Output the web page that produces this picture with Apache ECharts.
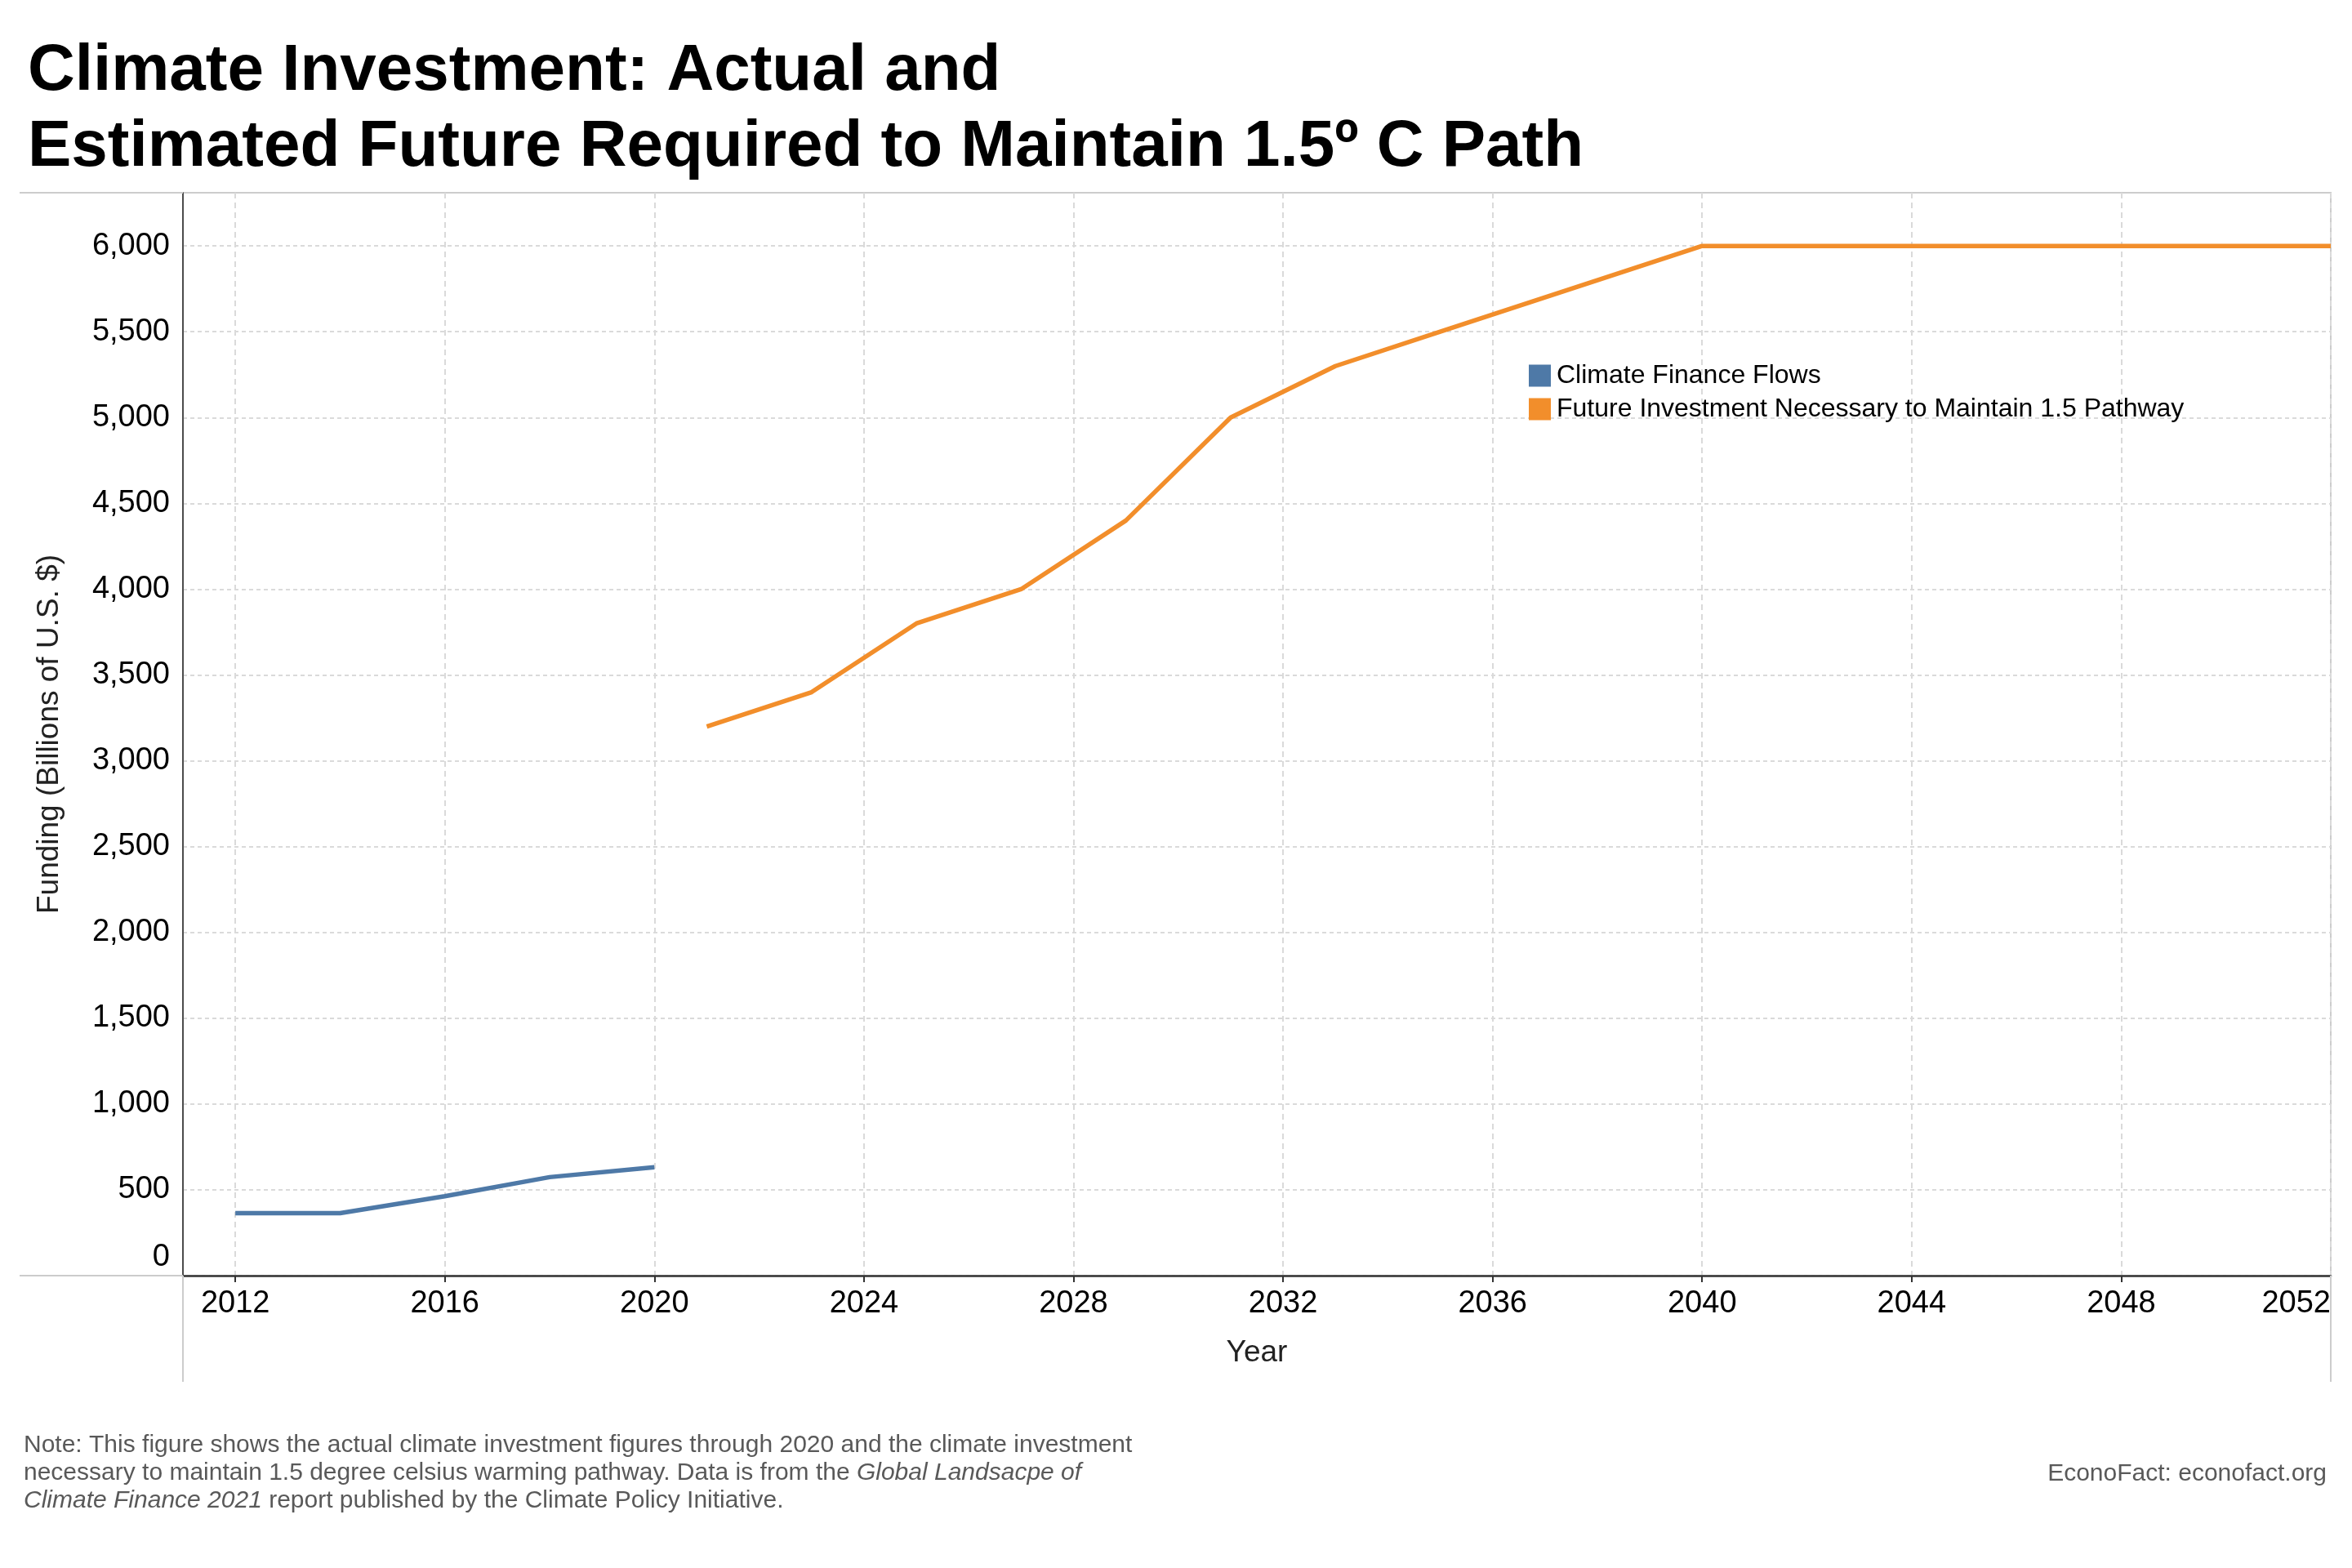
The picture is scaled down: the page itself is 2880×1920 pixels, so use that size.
<!DOCTYPE html>
<html>
<head>
<meta charset="utf-8">
<script src="https://cdn.jsdelivr.net/npm/echarts@6/dist/echarts.min.js"></script>
<style>
html,body{margin:0;padding:0;background:#fff;}
#chart{width:2880px;height:1920px;}
</style>
</head>
<body>
<div id="chart"></div>
<script>
// ---- data ----
const actualYears = [2012, 2014, 2016, 2018, 2020];
const actualValues = [364, 364, 463, 574, 632];
const futureYears = [2021, 2023, 2025, 2027, 2029, 2031, 2033, 2035, 2037, 2039, 2040, 2042, 2044, 2046, 2048, 2050, 2052];
const futureValues = [3200, 3400, 3800, 4000, 4400, 5000, 5300, 5500, 5700, 5900, 6000, 6000, 6000, 6000, 6000, 6000, 6000];
const xTickYears = [2012, 2016, 2020, 2024, 2028, 2032, 2036, 2040, 2044, 2048, 2052];
const yTickValues = [0, 500, 1000, 1500, 2000, 2500, 3000, 3500, 4000, 4500, 5000, 5500, 6000];
const seriesNames = ['Climate Finance Flows', 'Future Investment Necessary to Maintain 1.5 Pathway'];
const seriesColors = ['#4e79a7', '#f28e2b'];

const FONT = '"Liberation Sans", Arial, Helvetica, sans-serif';
const chart = echarts.init(document.getElementById('chart'));

const G = {left: 224, right: 26, top: 236, bottom: 358};
const plotRight = 2880 - G.right;
const plotBottom = 1920 - G.bottom;

chart.setOption({
  backgroundColor: '#ffffff',
  animation: false,
  title: {
    text: 'Climate Investment: Actual and\nEstimated Future Required to Maintain 1.5º C Path',
    left: 34, top: 41, padding: 0,
    textStyle: {fontFamily: FONT, fontWeight: 'bold', fontSize: 80, lineHeight: 93, color: '#000'}
  },
  legend: {
    orient: 'vertical',
    left: 1872, top: 444, padding: 0,
    icon: 'rect',
    itemWidth: 27, itemHeight: 27, itemGap: 9,
    textStyle: {fontFamily: FONT, fontSize: 32, lineHeight: 27, color: '#000', padding: [0, 0, 0, 2]},
    data: seriesNames
  },
  grid: {
    left: G.left, right: G.right, top: G.top, bottom: G.bottom,
    show: true, borderColor: '#cccccc', borderWidth: 2
  },
  xAxis: {
    type: 'value',
    min: 2011, max: 2052,
    name: 'Year',
    nameLocation: 'middle',
    nameGap: 76,
    nameTextStyle: {fontFamily: FONT, fontSize: 37, color: '#222'},
    axisLine: {show: true, onZero: false, lineStyle: {color: '#333', width: 2.5}},
    axisTick: {show: true, length: 8, customValues: xTickYears, lineStyle: {color: '#333', width: 2}},
    axisLabel: {customValues: xTickYears, fontFamily: FONT, fontSize: 38, color: '#000', margin: 16,
      alignMaxLabel: 'right',
      formatter: v => String(v)},
    splitLine: {show: true, lineStyle: {color: '#dadada', width: 2, type: [7, 5]}}
  },
  yAxis: {
    type: 'value',
    min: 0, max: 6310,
    name: 'Funding (Billions of U.S. $)',
    nameLocation: 'middle',
    nameGap: 145,
    nameTextStyle: {fontFamily: FONT, fontSize: 37, color: '#222'},
    axisLine: {show: true, lineStyle: {color: '#222', width: 1.5}},
    axisTick: {show: false, customValues: yTickValues},
    axisLabel: {customValues: yTickValues, fontFamily: FONT, fontSize: 38, color: '#000', margin: 16,
      formatter: v => Number(v) === 0 ? '{z|0}' : Number(v).toLocaleString('en-US'),
      rich: {z: {fontFamily: FONT, fontSize: 38, color: '#000', padding: [0, 0, 44, 0]}}},
    splitLine: {show: true, lineStyle: {color: '#dadada', width: 2, type: [5, 4]}}
  },
  series: [
    {
      name: seriesNames[0], type: 'line', symbol: 'none', color: seriesColors[0],
      lineStyle: {width: 5.5, color: seriesColors[0]},
      data: actualYears.map((y, i) => [y, actualValues[i]])
    },
    {
      name: seriesNames[1], type: 'line', symbol: 'none', color: seriesColors[1], clip: true,
      lineStyle: {width: 5.5, color: seriesColors[1]},
      data: futureYears.map((y, i) => [y, futureValues[i]])
    }
  ],
  graphic: [
    {type: 'line', z: 1, shape: {x1: 24, y1: G.top, x2: G.left, y2: G.top}, style: {stroke: '#cccccc', lineWidth: 2}},
    {type: 'line', z: 1, shape: {x1: 24, y1: plotBottom, x2: G.left, y2: plotBottom}, style: {stroke: '#cccccc', lineWidth: 2}},
    {type: 'line', z: 1, shape: {x1: G.left, y1: plotBottom, x2: G.left, y2: 1692}, style: {stroke: '#cccccc', lineWidth: 2}},
    {type: 'line', z: 1, shape: {x1: plotRight, y1: plotBottom, x2: plotRight, y2: 1692}, style: {stroke: '#cccccc', lineWidth: 2}},
    {
      type: 'text', left: 29, top: 1753,
      style: {
        text: 'Note: This figure shows the actual climate investment figures through 2020 and the climate investment\nnecessary to maintain 1.5 degree celsius warming pathway. Data is from the {i|Global Landsacpe of}\n{i|Climate Finance 2021} report published by the Climate Policy Initiative.',
        fontFamily: FONT, fontSize: 30, lineHeight: 34, fill: '#595959',
        rich: {i: {fontFamily: FONT, fontSize: 30, lineHeight: 34, fontStyle: 'italic', fill: '#595959'}}
      }
    },
    {
      type: 'text', right: 31, top: 1788,
      style: {text: 'EconoFact: econofact.org', fontFamily: FONT, fontSize: 30, lineHeight: 34, fill: '#595959'}
    }
  ]
});
</script>
</body>
</html>
